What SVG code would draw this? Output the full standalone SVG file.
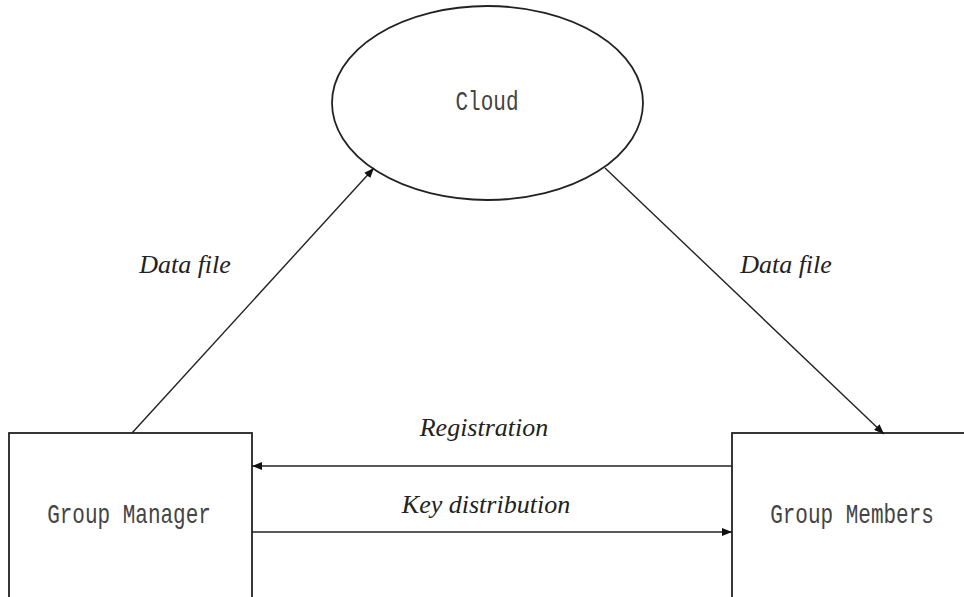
<svg xmlns="http://www.w3.org/2000/svg" width="964" height="597" viewBox="0 0 964 597">
<style>
.shape{fill:#fff;stroke:#222;stroke-width:1.8}
.conn{stroke:#222;stroke-width:1.4;fill:none;marker-end:url(#ah)}
.mono{font-family:"Liberation Mono","Noto Sans CJK SC",monospace;font-size:21px;fill:#444;text-anchor:middle}
.lbl{font-family:"Liberation Serif",serif;font-style:italic;font-size:26px;fill:#222;text-anchor:middle}
</style>
<defs>
<marker id="ah" viewBox="0 0 10 8" refX="10" refY="4" markerWidth="10" markerHeight="8" markerUnits="userSpaceOnUse" orient="auto">
<path d="M0,0 L10,4 L0,8 Z" fill="#111"/>
</marker>
</defs>
<rect width="964" height="597" fill="#fff"/>
<g id="cloud">
<ellipse class="shape" cx="487.5" cy="103" rx="155.5" ry="97"/>
<text class="mono" transform="translate(487,110) scale(1,1.33)">Cloud</text>
</g>
<g id="group-manager">
<rect class="shape" x="9" y="433" width="243" height="166"/>
<text class="mono" transform="translate(129,523) scale(1,1.33)">Group Manager</text>
</g>
<g id="group-members">
<rect class="shape" x="732" y="433" width="233" height="166"/>
<text class="mono" transform="translate(852,523) scale(1,1.33)">Group Members</text>
</g>
<g id="connectors">
<line class="conn" x1="132" y1="433" x2="374" y2="168"/>
<line class="conn" x1="605" y1="168" x2="884" y2="434"/>
<line class="conn" x1="732" y1="466" x2="252" y2="466"/>
<line class="conn" x1="252" y1="532" x2="732" y2="532"/>
<text class="lbl" x="185" y="273">Data file</text>
<text class="lbl" x="786" y="273">Data file</text>
<text class="lbl" x="484" y="436">Registration</text>
<text class="lbl" x="486" y="513">Key distribution</text>
</g>
</svg>
